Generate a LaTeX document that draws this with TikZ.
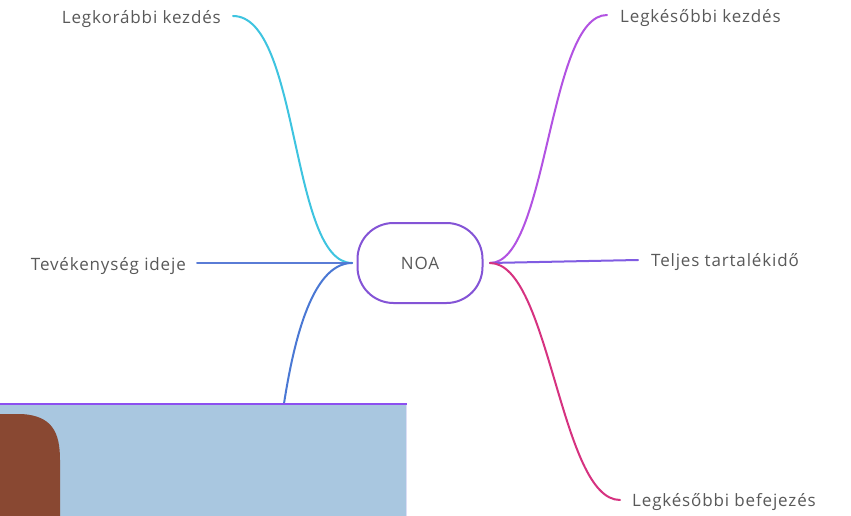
\documentclass[tikz,border=0pt]{standalone}
\usepackage{fontspec}
\setmainfont{Open Sans}[LetterSpace=5]
\begin{document}
\begin{tikzpicture}[x=1pt,y=-1pt,
  lbl/.style={text=black!65, font=\fontsize{17}{19}\selectfont, inner sep=0pt},
  br/.style={line width=2pt, line cap=round}]
\useasboundingbox (0,0) rectangle (851,516);
\fill[white] (0,0) rectangle (851,516);
% centre node
\node[draw={rgb,255:red,132;green,84;blue,214}, line width=2pt, rounded corners=36pt, minimum width=125pt, minimum height=80pt,
  font=\fontsize{17}{19}\selectfont, text=black!65] (noa) at (420,263) {NOA};
\coordinate (jl) at (352,263);
\coordinate (jr) at (490,263);
% labels
\node[lbl, anchor=east] (lk) at (221,19) {Legkorábbi kezdés};
\node[lbl, anchor=east] (ti) at (186,266) {Tevékenység ideje};
\node[lbl, anchor=west] (lsk) at (620,18) {Legkésőbbi kezdés};
\node[lbl, anchor=west] (tt) at (651,262) {Teljes tartalékidő};
\node[lbl, anchor=west] (lb) at (632,502) {Legkésőbbi befejezés};
\coordinate (lbs) at (620,500);
\coordinate (lks) at (233,16);
\coordinate (tis) at (197,263);
\coordinate (lsks) at (607,15);
\coordinate (tts) at (638,260);
\coordinate (ll) at (283,410);
% branches
\draw[br, color={rgb,255:red,62;green,196;blue,224}] (lks) .. controls (300,16) and (290,263) .. (jl);
\draw[br, color={rgb,255:red,90;green,124;blue,214}] (tis) -- (jl);
\draw[br, color={rgb,255:red,74;green,120;blue,212}] (jl) .. controls (310,263) and (292,350) .. (ll);
\draw[br, color={rgb,255:red,178;green,82;blue,226}] (jr) .. controls (548,263) and (548,15) .. (lsks);
\draw[br, color={rgb,255:red,128;green,92;blue,226}] (jr) -- (tts);
\draw[br, color={rgb,255:red,214;green,50;blue,128}] (jr) .. controls (550,263) and (560,500) .. (lbs);
% overlay box
\fill[color={rgb,255:red,169;green,199;blue,224}] (0,405) rectangle (407,516);
\draw[line width=0.8pt, color={rgb,255:red,220;green,222;blue,245}] (406,405) -- (406,516);
\draw[line width=1.5pt, color={rgb,255:red,140;green,80;blue,240}] (0,404) -- (407,404);
\fill[color={rgb,255:red,137;green,72;blue,50}] (0,414) -- (22,414) .. controls (52,416) and (60,432) .. (60,460) -- (60,516) -- (0,516) -- cycle;
\end{tikzpicture}
\end{document}
